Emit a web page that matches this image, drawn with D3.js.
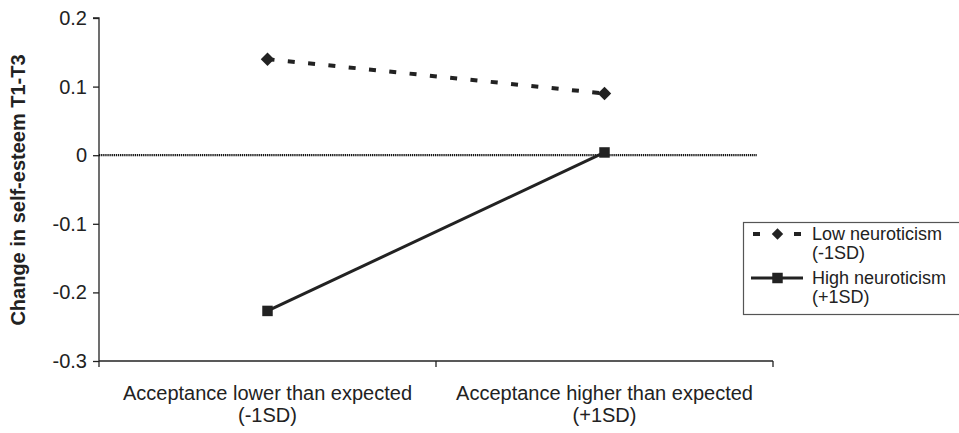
<!DOCTYPE html>
<html><head><meta charset="utf-8">
<script src="https://cdn.jsdelivr.net/npm/d3@7"></script>
<style>body{margin:0;background:#fff}svg{display:block}text{font-family:"Liberation Sans",Arial,sans-serif;fill:#222}</style>
</head><body><svg id="c" width="959" height="433"></svg>
<script>
const categories = [["Acceptance lower than expected","(-1SD)"],["Acceptance higher than expected","(+1SD)"]];
const lowNeuro = [0.14, 0.09];
const highNeuro = [-0.227, 0.004];
const yTicks = [0.2, 0.1, 0, -0.1, -0.2, -0.3];
const seriesNames = [["Low neuroticism","(-1SD)"],["High neuroticism","(+1SD)"]];

(function(){
const svg = d3.select("#c");
const mLeft = 99, mRight = 773, mTop = 18, mBottom = 361;
const x = d3.scaleBand().domain([0,1]).range([mLeft,mRight]);
const y = d3.scaleLinear().domain([-0.3,0.2]).range([mBottom,mTop]);
const ink = "#222";
const fs = 20;

// y axis
const ya = svg.append("g").attr("transform",`translate(${mLeft},0)`)
  .call(d3.axisLeft(y).tickValues(yTicks).tickSize(6).tickPadding(6).tickFormat(d=>Math.abs(d)<1e-9?"0":d.toFixed(1)));
ya.select(".domain").attr("stroke",ink).attr("stroke-width",1.3).attr("d",`M-6,${mTop}H0V${mBottom}`);
ya.selectAll(".tick line").attr("stroke",ink).attr("stroke-width",1.3);
ya.selectAll(".tick text").attr("font-size",fs).attr("font-family","Liberation Sans, Arial, sans-serif").attr("fill",ink);

// x axis
const xa = svg.append("g").attr("transform",`translate(0,${mBottom})`)
  .call(d3.axisBottom(x).tickValues([]).tickSizeOuter(0));
xa.select(".domain").attr("stroke",ink).attr("stroke-width",1.3).attr("d",`M${mLeft},0H${mRight}`);
[mLeft, x(1), mRight].forEach(t=>xa.append("line").attr("x1",t).attr("x2",t).attr("y1",0).attr("y2",6).attr("stroke",ink).attr("stroke-width",1.3));
categories.forEach((c,i)=>{
  const t = svg.append("text").attr("text-anchor","middle").attr("font-size",fs).attr("fill",ink)
    .attr("x",x(i)+x.bandwidth()/2).attr("y",400);
  t.append("tspan").attr("x",x(i)+x.bandwidth()/2).text(c[0]);
  t.append("tspan").attr("x",x(i)+x.bandwidth()/2).attr("dy",22).text(c[1]);
});

// zero line
svg.append("line").attr("x1",mLeft).attr("x2",757).attr("y1",y(0)).attr("y2",y(0))
  .attr("stroke","#111").attr("stroke-width",2.2).attr("stroke-dasharray","1.3,0.8");

// y title
svg.append("text").attr("transform",`translate(25,190) rotate(-90)`).attr("text-anchor","middle")
  .attr("font-size",fs).attr("font-weight","bold").attr("fill",ink).text("Change in self-esteem T1-T3");

const cx = i => x(i)+x.bandwidth()/2;
const line = d3.line().x((d,i)=>cx(i)).y(d=>y(d));
svg.append("path").datum(lowNeuro).attr("d",line).attr("fill","none").attr("stroke",ink)
  .attr("stroke-width",4).attr("stroke-dasharray","7,13.4");
svg.append("path").datum(highNeuro).attr("d",line).attr("fill","none").attr("stroke",ink).attr("stroke-width",3);

const diamond = d3.symbol().type(d3.symbolDiamond2).size(115);
const square = d3.symbol().type(d3.symbolSquare).size(110);
lowNeuro.forEach((v,i)=>svg.append("path").attr("d",diamond()).attr("transform",`translate(${cx(i)},${y(v)})`).attr("fill",ink));
highNeuro.forEach((v,i)=>svg.append("path").attr("d",square()).attr("transform",`translate(${cx(i)},${y(v)})`).attr("fill",ink));

// legend
svg.append("rect").attr("x",743.5).attr("y",222.5).attr("width",230).attr("height",92).attr("fill","#fff").attr("stroke","#555").attr("stroke-width",1.2);
const ly = [234, 278];
svg.append("line").attr("x1",753).attr("x2",801).attr("y1",ly[0]).attr("y2",ly[0]).attr("stroke",ink).attr("stroke-width",4).attr("stroke-dasharray","7,34");
svg.append("path").attr("d",diamond()).attr("transform",`translate(777.5,${ly[0]}) scale(0.85)`).attr("fill",ink);
svg.append("line").attr("x1",751).attr("x2",803).attr("y1",ly[1]).attr("y2",ly[1]).attr("stroke",ink).attr("stroke-width",3);
svg.append("path").attr("d",square()).attr("transform",`translate(777.5,${ly[1]})`).attr("fill",ink);
seriesNames.forEach((s,i)=>{
  const t = svg.append("text").attr("font-size",18).attr("fill",ink).attr("x",812).attr("y",ly[i]+6);
  t.append("tspan").attr("x",812).text(s[0]);
  t.append("tspan").attr("x",812).attr("dy",19).text(s[1]);
});
})();
</script></body></html>
